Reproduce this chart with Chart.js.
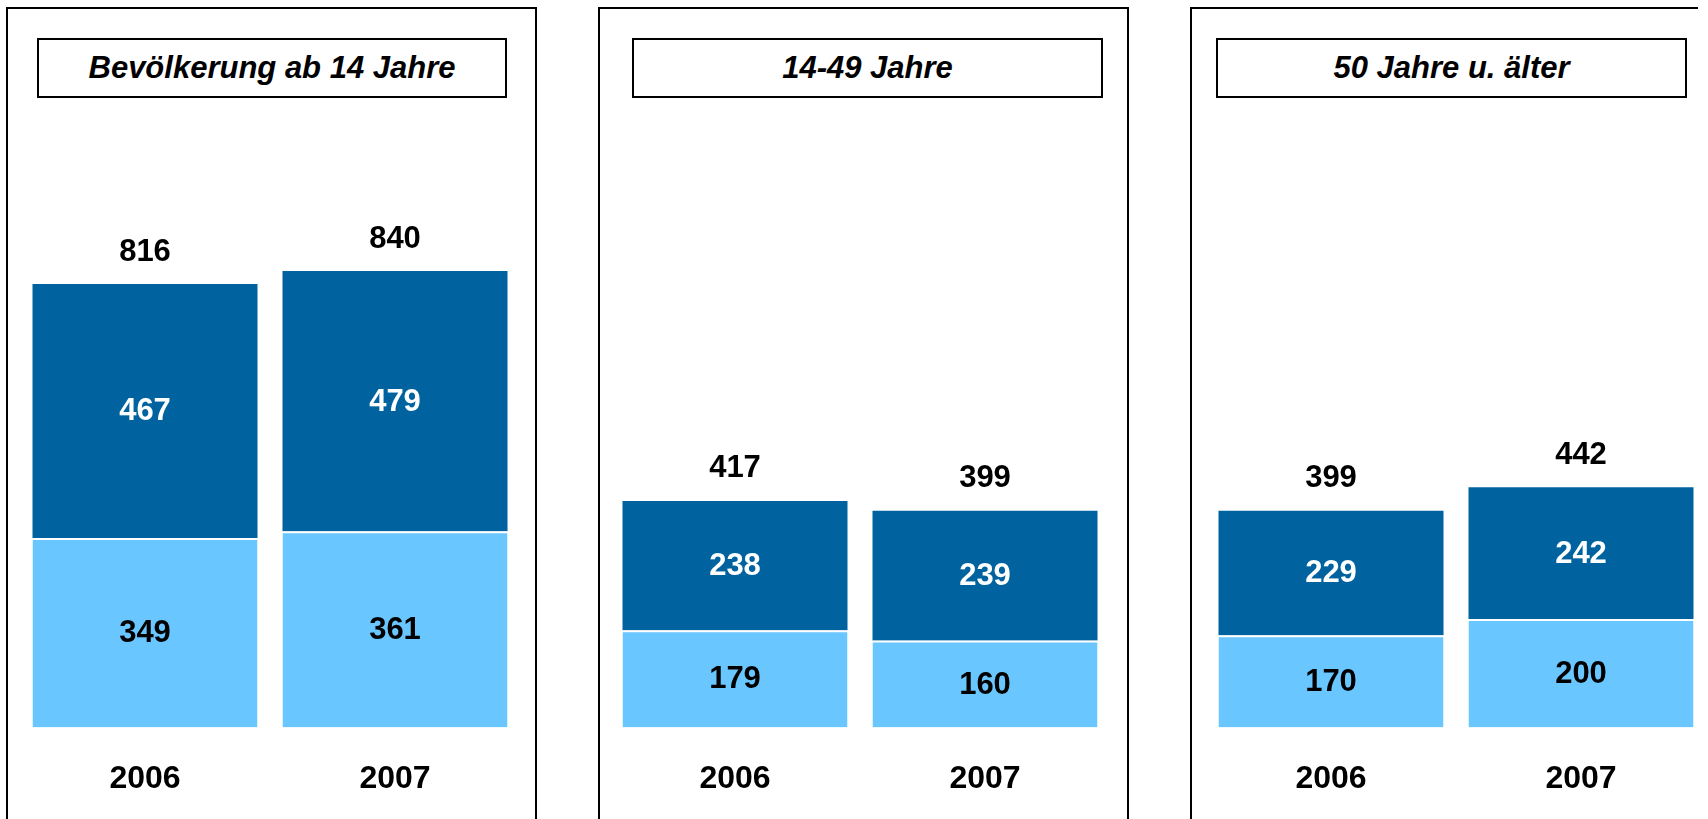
<!DOCTYPE html>
<html lang="de">
<head>
<meta charset="utf-8">
<title>Bevölkerung 2006 / 2007</title>
<script src="https://cdn.jsdelivr.net/npm/chart.js@4/dist/chart.umd.min.js"></script>
<style>
  html, body { margin: 0; padding: 0; background: #fff; }
  body { width: 1708px; height: 819px; position: relative; overflow: hidden;
         font-family: "Liberation Sans", Arial, sans-serif; }
  .panel { position: absolute; top: 7px; height: 830px; box-sizing: border-box;
           border: 2px solid #000; border-bottom: none; }
  .panel-title { position: absolute; top: 38px; height: 60px; box-sizing: border-box;
                 border: 2px solid #000; display: flex; align-items: center; justify-content: center;
                 font: italic bold 31px "Liberation Sans", Arial, sans-serif; color: #000; }
  canvas { position: absolute; top: 184px; }
</style>
</head>
<body>

<!-- ── Panels ── -->
<div class="panel" style="left:6px;width:531px;"></div>
<div class="panel" style="left:598px;width:531px;"></div>
<div class="panel" style="left:1190px;width:508px;border-right:none;"></div>

<div class="panel-title" id="title-0" style="left:37px;width:470px;"></div>
<div class="panel-title" id="title-1" style="left:632px;width:471px;"></div>
<div class="panel-title" id="title-2" style="left:1216px;width:471px;"></div>

<canvas id="chart-0" width="500" height="646" style="left:20px;"></canvas>
<canvas id="chart-1" width="500" height="646" style="left:610px;"></canvas>
<canvas id="chart-2" width="500" height="646" style="left:1206px;"></canvas>

<script>
// ── Data ──
const years  = ['2006', '2007'];
const titles = ['Bevölkerung ab 14 Jahre', '14-49 Jahre', '50 Jahre u. älter'];

const lowerAll   = [349, 361];   // unterer Anteil
const upperAll   = [467, 479];   // oberer Anteil
const totalAll   = [816, 840];

const lower1449  = [179, 160];
const upper1449  = [238, 239];
const total1449  = [417, 399];

const lower50    = [170, 200];
const upper50    = [229, 242];
const total50    = [399, 442];

const panels = [
  { lower: lowerAll,  upper: upperAll,  totals: totalAll  },
  { lower: lower1449, upper: upper1449, totals: total1449 },
  { lower: lower50,   upper: upper50,   totals: total50   },
];

const DARK  = '#0063A0';
const LIGHT = '#69C6FF';
const FONT  = '"Liberation Sans", Arial, sans-serif';

// value labels inside segments + totals on top
const barLabels = {
  id: 'barLabels',
  afterDatasetsDraw(chart, args, opts) {
    const { ctx } = chart;
    ctx.save();
    ctx.font = `bold 31px ${FONT}`;
    ctx.textAlign = 'center';
    ctx.textBaseline = 'middle';
    chart.data.datasets.forEach((ds, di) => {
      chart.getDatasetMeta(di).data.forEach((bar, i) => {
        ctx.fillStyle = ds.labelColor;
        ctx.fillText(String(ds.data[i]), bar.x, (bar.y + bar.base) / 2 + 1);
      });
    });
    const top = chart.getDatasetMeta(chart.data.datasets.length - 1).data;
    ctx.fillStyle = '#000';
    top.forEach((bar, i) => ctx.fillText(String(opts.totals[i]), bar.x, bar.y - 32));
    ctx.restore();
  }
};

panels.forEach((p, k) => {
  document.getElementById(`title-${k}`).textContent = titles[k];

  new Chart(document.getElementById(`chart-${k}`), {
    type: 'bar',
    data: {
      labels: years,
      datasets: [
        {
          data: p.lower, backgroundColor: LIGHT, labelColor: '#000',
          borderColor: '#fff', borderWidth: { top: 2, left: 0, right: 0, bottom: 0 },
          borderSkipped: false, barPercentage: 0.9, categoryPercentage: 1,
        },
        {
          data: p.upper, backgroundColor: DARK, labelColor: '#fff',
          borderWidth: 0, barPercentage: 0.9, categoryPercentage: 1,
        },
      ]
    },
    options: {
      responsive: false,
      animation: false,
      events: [],
      layout: { padding: 0 },
      plugins: {
        legend: { display: false },
        tooltip: { enabled: false },
        barLabels: { totals: p.totals },
      },
      scales: {
        x: {
          stacked: true,
          grid: { display: false, drawTicks: false },
          border: { display: false },
          ticks: { color: '#000', padding: 32, font: { family: FONT, size: 32, weight: 'bold' } },
        },
        y: { stacked: true, display: false, min: 0, max: 1000 },
      }
    },
    plugins: [barLabels]
  });
});
</script>
</body>
</html>
